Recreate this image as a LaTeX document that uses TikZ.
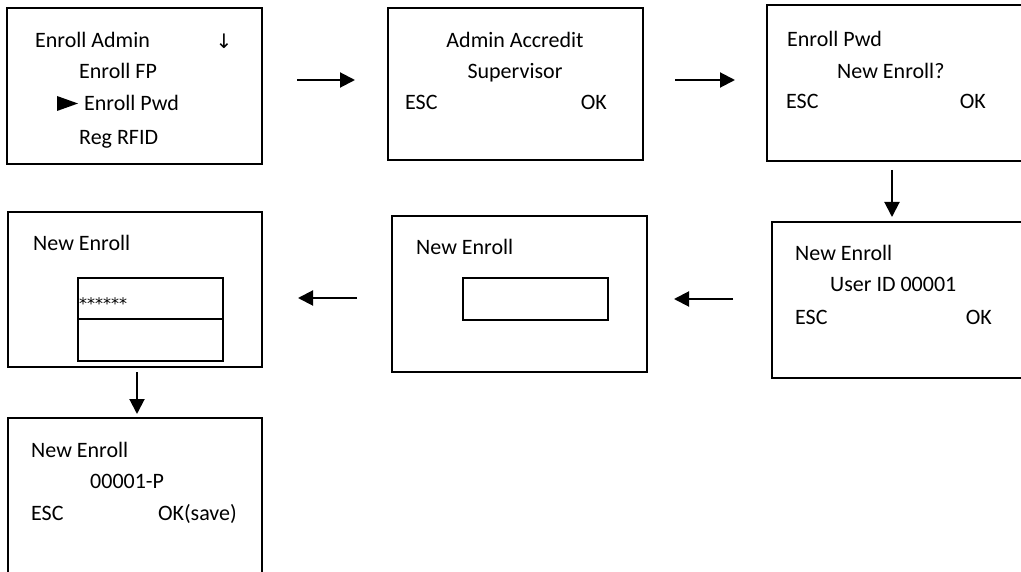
\documentclass[tikz,border=0pt]{standalone}
\usepackage{fontspec}
\setmainfont{Carlito}
\newfontfamily\symfont{DejaVu Sans}
\usetikzlibrary{arrows.meta}
\tikzset{
  screen/.style={draw, line width=1.8pt},
  field/.style={draw, line width=1.1pt},
  lbl/.style={anchor=base west, inner sep=0pt, font=\fontsize{22}{26}\selectfont},
  rlbl/.style={anchor=base east, inner sep=0pt, font=\fontsize{22}{26}\selectfont},
  clbl/.style={anchor=base, inner sep=0pt, font=\fontsize{22}{26}\selectfont},
  flow/.style={line width=2pt, -{Triangle[length=15pt,width=15pt]}}
}
\begin{document}
\begin{tikzpicture}[x=1pt, y=-1pt]
\useasboundingbox (0,0) rectangle (1021,572);
\clip (0,0) rectangle (1021,572);

% screens
\draw[screen] (7,8) rectangle (262,164);
\node[inner sep=0pt] (s1) at (134.5,86) {};
\draw[screen] (388,8) rectangle (643,160);
\node[inner sep=0pt] (s2) at (515.5,84) {};
\draw[screen] (767,5) rectangle (1030,161);
\node[inner sep=0pt] (s3) at (898,83) {};
\draw[screen] (8,212) rectangle (262,367);
\node[inner sep=0pt] (s4) at (135,289.5) {};
\draw[screen] (392,216) rectangle (647,372);
\node[inner sep=0pt] (s5) at (519.5,294) {};
\draw[screen] (772,222) rectangle (1030,378);
\node[inner sep=0pt] (s6) at (901,300) {};
\draw[screen] (8,418) rectangle (262,580);
\node[inner sep=0pt] (s7) at (135,499) {};

% input fields
\draw[field] (78,278) rectangle (223,319);
\draw[field] (78,319) rectangle (223,361);
\draw[field] (463,278) rectangle (608,320);

% screen 1
\node[lbl] (t11) at (35,48) {Enroll Admin};
\node[clbl, font=\symfont\fontsize{20}{24}\selectfont] (t12) at (224,49) {↓};
\node[lbl] (t13) at (79,79) {Enroll FP};
\fill (57,96) -- (78,103.5) -- (57,111) -- cycle;
\node[inner sep=0pt] (t14) at (66,103.5) {};
\node[lbl] (t15) at (84,111) {Enroll Pwd};
\node[lbl] (t16) at (79,145) {Reg RFID};

% screen 2
\node[clbl] (t21) at (515,48) {Admin Accredit};
\node[clbl] (t22) at (515,79) {Supervisor};
\node[lbl] (t23) at (405,110) {ESC};
\node[rlbl] (t24) at (607,110) {OK};

% screen 3
\node[lbl] (t31) at (787,47) {Enroll Pwd};
\node[lbl] (t32) at (837,79) {New Enroll?};
\node[lbl] (t33) at (786,109) {ESC};
\node[rlbl] (t34) at (986,109) {OK};

% screen 4
\node[lbl] (t41) at (33,251) {New Enroll};
\node[lbl, font=\symfont\fontsize{16}{18}\selectfont] (t42) at (79,309) {******};

% screen 5
\node[lbl] (t51) at (416,255) {New Enroll};

% screen 6
\node[lbl] (t61) at (795,261) {New Enroll};
\node[lbl] (t62) at (830,292) {User ID 00001};
\node[lbl] (t63) at (795,324) {ESC};
\node[rlbl] (t64) at (992,324) {OK};

% screen 7
\node[lbl] (t71) at (31,457) {New Enroll};
\node[lbl] (t72) at (90,488) {00001-P};
\node[lbl] (t73) at (31,520) {ESC};
\node[rlbl] (t74) at (237,520) {OK(save)};

% arrow end points
\coordinate (a1s) at (297,80);  \coordinate (a1e) at (355,80);
\coordinate (a2s) at (675,80);  \coordinate (a2e) at (735,80);
\coordinate (a3s) at (892,170); \coordinate (a3e) at (892,217);
\coordinate (a4s) at (733,299); \coordinate (a4e) at (674,299);
\coordinate (a5s) at (357,298); \coordinate (a5e) at (298,298);
\coordinate (a6s) at (137,372); \coordinate (a6e) at (137,414);

\draw[flow] (a1s) -- (a1e);
\draw[flow] (a2s) -- (a2e);
\draw[flow] (a3s) -- (a3e);
\draw[flow] (a4s) -- (a4e);
\draw[flow] (a5s) -- (a5e);
\draw[flow] (a6s) -- (a6e);
\end{tikzpicture}
\end{document}
